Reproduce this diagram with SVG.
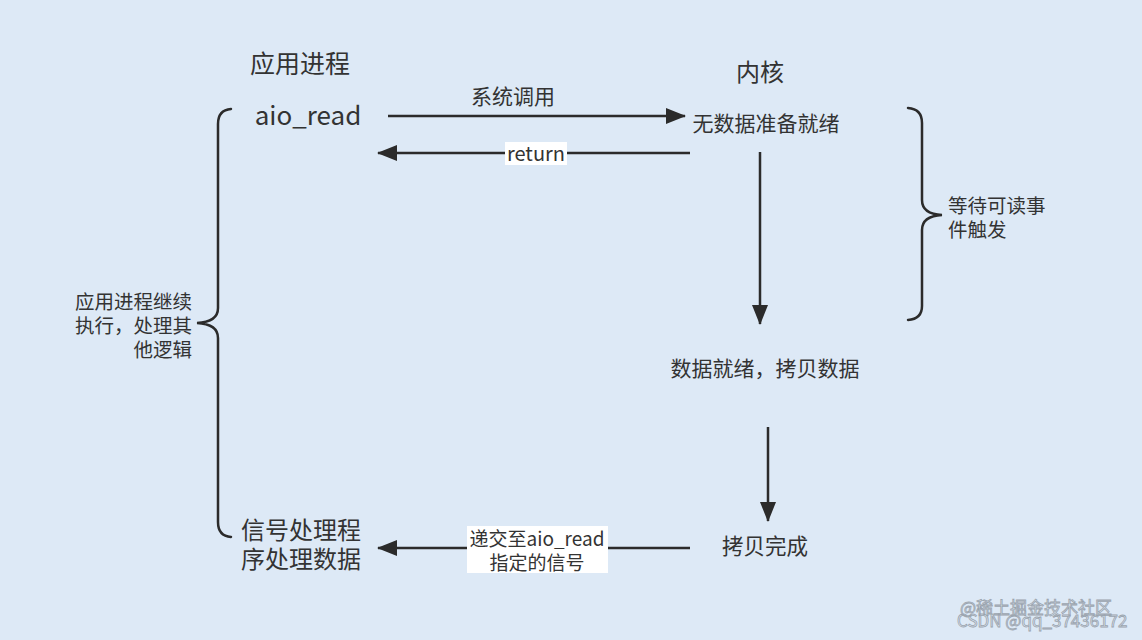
<svg xmlns="http://www.w3.org/2000/svg" width="1142" height="640" viewBox="0 0 1142 640">
<defs>
<style>
.t{font-family:"Noto Sans CJK SC","Liberation Sans",sans-serif;fill:#333333}
.ln{stroke:#2b2b2b;stroke-width:2.5;fill:none}
.br{stroke:#2b2b2b;stroke-width:2.5;fill:none;stroke-linecap:round}
.wm{font-family:"Noto Sans CJK SC","Liberation Sans",sans-serif;fill:none;stroke:#9aa3ad;stroke-width:0.8}
</style>
<marker id="ah" viewBox="0 0 20 16" refX="19" refY="8" markerWidth="20" markerHeight="16" markerUnits="userSpaceOnUse" orient="auto">
<path d="M0,0 L20,8 L0,16 Z" fill="#2b2b2b"/>
</marker>
</defs>
<rect width="1142" height="640" fill="#dde9f6"/>

<g id="connectors">
<line class="ln" x1="388" y1="116" x2="685" y2="116" marker-end="url(#ah)"/>
<line class="ln" x1="690" y1="153" x2="378" y2="153" marker-end="url(#ah)"/>
<line class="ln" x1="760" y1="152" x2="760" y2="324" marker-end="url(#ah)"/>
<line class="ln" x1="768" y1="427" x2="768" y2="521" marker-end="url(#ah)"/>
<line class="ln" x1="690" y1="548" x2="378" y2="548" marker-end="url(#ah)"/>
<g id="label-syscall"><text class="t" x="513" y="104" font-size="21" text-anchor="middle">系统调用</text></g>
<g id="label-return">
<rect x="505" y="142" width="62" height="23" fill="#ffffff"/>
<text class="t" x="536" y="161" font-size="20" text-anchor="middle">return</text>
</g>
<g id="label-signal">
<rect x="467" y="526" width="141" height="47" fill="#ffffff"/>
<text class="t" x="537" y="546" font-size="19" text-anchor="middle">递交至aio_read</text>
<text class="t" x="537" y="570" font-size="19" text-anchor="middle">指定的信号</text>
</g>
</g>

<g id="brace-left">
<path class="br" d="M231,109 Q218,110 218,124 L218,308 Q218,322 197,323 Q218,324 218,338 L218,522 Q218,536 231,537"/>
</g>
<g id="brace-right">
<path class="br" d="M908,108 Q922,109 922,123 L922,200 Q922,214 942,215 Q922,216 922,230 L922,306 Q922,319 908,320"/>
</g>

<g id="title-app"><text class="t" x="300" y="73" font-size="25" text-anchor="middle">应用进程</text></g>
<g id="title-kernel"><text class="t" x="760" y="81" font-size="24" text-anchor="middle">内核</text></g>
<g id="aio-read"><text class="t" x="308" y="125" font-size="26" text-anchor="middle">aio_read</text></g>
<g id="no-data"><text class="t" x="766" y="131" font-size="21" text-anchor="middle">无数据准备就绪</text></g>
<g id="wait-event">
<text class="t" x="948" y="213" font-size="19.5">等待可读事</text>
<text class="t" x="948" y="237" font-size="19.5">件触发</text>
</g>
<g id="data-ready"><text class="t" x="765" y="376" font-size="21" text-anchor="middle">数据就绪，拷贝数据</text></g>
<g id="copy-done"><text class="t" x="765" y="554" font-size="21.5" text-anchor="middle">拷贝完成</text></g>
<g id="app-continue">
<text class="t" x="192" y="309" font-size="19.5" text-anchor="end">应用进程继续</text>
<text class="t" x="192" y="333" font-size="19.5" text-anchor="end">执行，处理其</text>
<text class="t" x="192" y="357" font-size="19.5" text-anchor="end">他逻辑</text>
</g>
<g id="signal-handler">
<text class="t" x="241" y="539" font-size="24">信号处理程</text>
<text class="t" x="241" y="568" font-size="24">序处理数据</text>
</g>

<g id="watermark">
<text class="wm" x="960" y="614" font-size="17">@稀土掘金技术社区</text>
<text class="wm" x="957" y="627" font-size="17">CSDN @qq_37436172</text>
</g>
</svg>
